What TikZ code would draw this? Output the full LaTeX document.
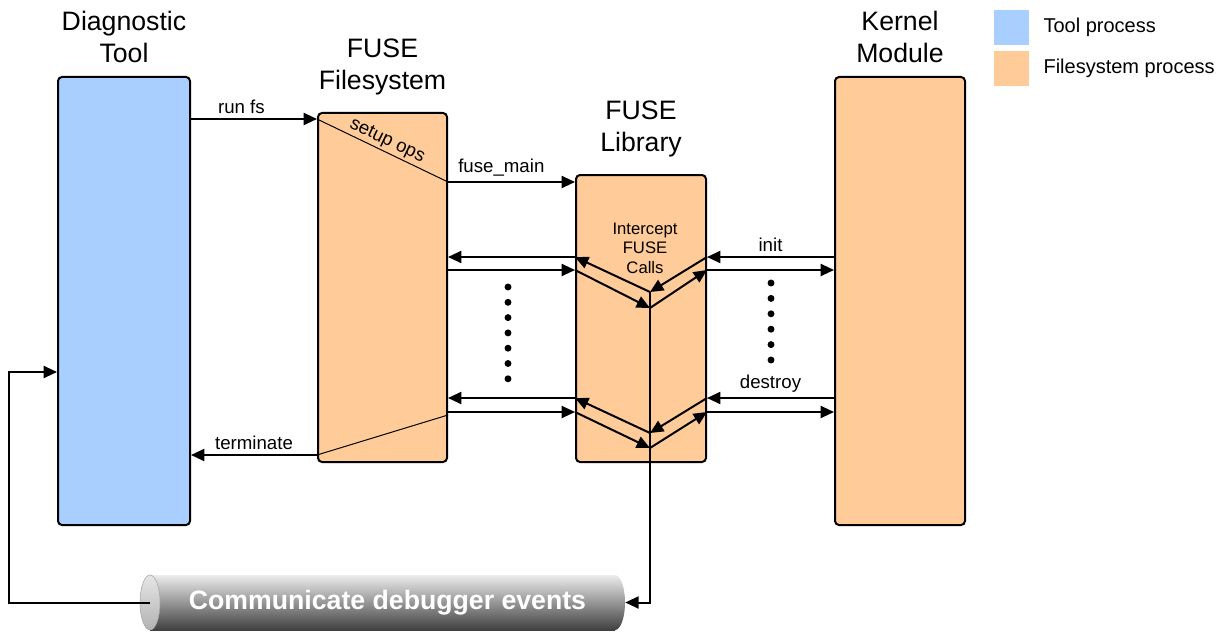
\documentclass[tikz,border=0pt]{standalone}
\usepackage{fontspec}
\setmainfont{Liberation Sans}
\usepackage{tikz}
\usetikzlibrary{arrows.meta,positioning}

\definecolor{toolblue}{RGB}{168,207,255}
\definecolor{fsorange}{RGB}{255,204,153}

\begin{document}
\begin{tikzpicture}[x=0.75pt, y=-0.75pt,
    box/.style = {draw, line width=1.5pt, rounded corners=3pt, inner sep=0pt},
    heading/.style = {font=\fontsize{20}{24}\selectfont, align=center, inner sep=0pt},
    lbl/.style = {font=\fontsize{14}{16}\selectfont},
    arr/.style = {-{Triangle[length=10pt,width=9pt]}, line width=1.5pt},
    legendbox/.style = {minimum size=26.25pt, inner sep=0pt},
    legendtext/.style = {font=\fontsize{15}{18}\selectfont, inner sep=0pt}]
    \useasboundingbox (0,0) rectangle (1226,631);

    \node[box, fill=toolblue, minimum width=99pt, minimum height=336pt] (tool) at (124,301) {};
    \node[box, fill=fsorange, minimum width=96.75pt, minimum height=261.75pt] (fs) at (382.5,287.5) {};
    \node[box, fill=fsorange, minimum width=97.5pt, minimum height=215.25pt] (lib) at (641,318.5) {};
    \node[box, fill=fsorange, minimum width=97.5pt, minimum height=336pt] (kern) at (900,301) {};

    \node[heading, above=10pt of tool] (tooltitle) {Diagnostic\\Tool};
    \node[heading, above=12.5pt of fs] (fstitle) {FUSE\\Filesystem};
    \node[heading, above=12.5pt of lib] (libtitle) {FUSE\\Library};
    \node[heading, above=10pt of kern] (kerntitle) {Kernel\\Module};

    \node[font=\fontsize{12.5}{14.6}\selectfont, align=center, inner sep=0pt] (icpt) at (645,248) {Intercept\\FUSE\\Calls};

    \node[legendbox, fill=toolblue] (k1) at (1011.5,27.5) {};
    \node[legendbox, fill=fsorange, below=3.75pt of k1] (k2) {};
    \node[legendtext, right=10.5pt of k1] (k1text) {Tool process};
    \node[legendtext, right=10.5pt of k2] (k2text) {Filesystem process};

    \coordinate (run) at (0,119);
    \coordinate (main) at (0,182);
    \coordinate (up1) at (0,257);
    \coordinate (up2) at (0,270);
    \coordinate (dn1) at (0,398);
    \coordinate (dn2) at (0,412);
    \coordinate (term) at (0,455);
    \coordinate (mid1) at (650,292);
    \coordinate (mid2) at (650,308);
    \coordinate (mid3) at (650,433);
    \coordinate (mid4) at (650,448);
    \coordinate (fb) at (9,372);

    \foreach \i in {0,...,6} \fill (508,287+15.3*\i) circle (2.6pt);
    \foreach \i in {0,...,5} \fill (771,283+15.4*\i) circle (2.6pt);

    \shade[top color=gray!15, bottom color=black!75] (615,602.5) ellipse [x radius=10, y radius=27.5];
    \shade[top color=gray!15, bottom color=black!75] (150,575) rectangle (615,630);
    \shadedraw[top color=gray!20, bottom color=gray!60, draw=gray!70] (150,602.5) ellipse [x radius=10, y radius=27.5];
    \node[font=\bfseries\fontsize{20}{24}\selectfont, text=white, minimum width=356.25pt, minimum height=41.25pt, inner sep=0pt] (events) at (387.5,602.5) {Communicate debugger events};

    \path[arr] (tool.east |- run) edge node[lbl, above, pos=.4] {run fs} (fs.west |- run);
    \draw[line width=.75pt] (fs.west |- run) -- node[lbl, above, sloped, inner sep=1.5pt] {setup ops} (fs.east |- main);
    \path[arr] (fs.east |- main) edge node[lbl, above, pos=.42] {fuse\_main} (lib.west |- main);

    \path[arr] (lib.west |- up1) edge (fs.east |- up1)
               (fs.east |- up2) edge (lib.west |- up2)
               (kern.west |- up1) edge node[lbl, above] {init} (lib.east |- up1)
               (lib.east |- up2) edge (kern.west |- up2);
    \path[arr] (mid1) edge (lib.west |- up1)
               (lib.west |- up2) edge (mid2)
               (lib.east |- up1) edge (mid1)
               (mid2) edge (lib.east |- up2);

    \path[arr] (lib.west |- dn1) edge (fs.east |- dn1)
               (fs.east |- dn2) edge (lib.west |- dn2)
               (kern.west |- dn1) edge node[lbl, above] {destroy} (lib.east |- dn1)
               (lib.east |- dn2) edge (kern.west |- dn2);
    \path[arr] (mid3) edge (lib.west |- dn1)
               (lib.west |- dn2) edge (mid4)
               (lib.east |- dn1) edge (mid3)
               (mid4) edge (lib.east |- dn2);

    \path[arr] (fs.west |- term) edge node[lbl, above] {terminate} (tool.east |- term);
    \draw[line width=.75pt] (fs.west |- term) -- ([yshift=-2.25pt]fs.east |- dn2);

    \draw[arr] (mid1) |- (events.east);
    \draw[arr] (events.west) -| (fb) -- (fb -| tool.west);
\end{tikzpicture}
\end{document}
